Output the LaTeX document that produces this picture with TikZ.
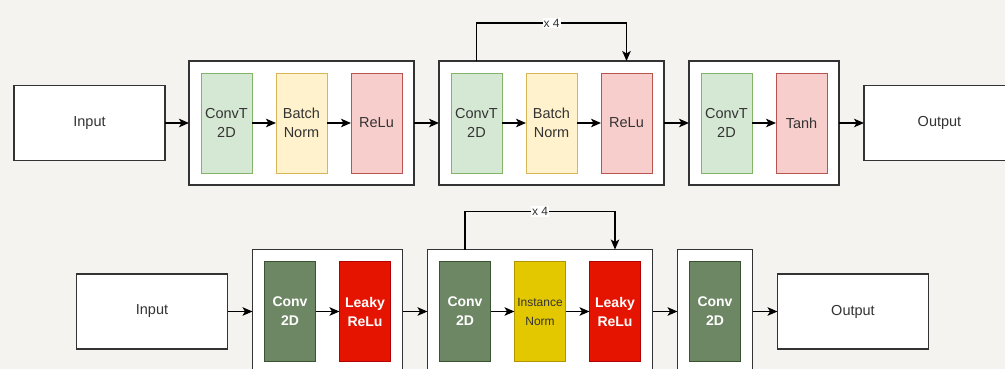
\documentclass[tikz,border=0pt]{standalone}
\usepackage{fontspec}
\setmainfont{Liberation Sans}
\usepackage{xcolor}
\usetikzlibrary{arrows.meta, positioning, fit, backgrounds}

\definecolor{paper}{HTML}{F4F3EF}
\definecolor{txt}{HTML}{333333}
\definecolor{lgreen}{HTML}{D5E8D4}  \definecolor{lgreenln}{HTML}{82B366}
\definecolor{lyellow}{HTML}{FFF2CC} \definecolor{lyellowln}{HTML}{D6B656}
\definecolor{lred}{HTML}{F8CECC}    \definecolor{lredln}{HTML}{B85450}
\definecolor{dgreen}{HTML}{6D8764}  \definecolor{dgreenln}{HTML}{3A5431}
\definecolor{dyellow}{HTML}{E3C800} \definecolor{dyellowln}{HTML}{B09500}
\definecolor{dred}{HTML}{E51400}    \definecolor{dredln}{HTML}{B20000}

\begin{document}
\begin{tikzpicture}[
  x=1pt, y=1pt,
  node distance=24pt,
  every node/.append style={outer sep=0pt},
  iobox/.style={draw=txt, fill=white, line width=1.2pt, minimum width=151pt, minimum height=75pt,
                font=\fontsize{14.5}{18}\selectfont, text=txt},
  layer/.style={draw, line width=0.8pt, minimum width=51pt, minimum height=100pt, inner sep=0pt,
                align=center, font=\fontsize{14.5}{19}\selectfont, text=txt},
  convt/.style={layer, fill=lgreen, draw=lgreenln},
  bnorm/.style={layer, fill=lyellow, draw=lyellowln},
  relu/.style={layer, fill=lred, draw=lredln},
  conv/.style={layer, fill=dgreen, draw=dgreenln, text=white, font=\bfseries\fontsize{14}{19}\selectfont},
  inorm/.style={layer, fill=dyellow, draw=dyellowln, text=txt, font=\fontsize{12}{19}\selectfont},
  lrelu/.style={layer, fill=dred, draw=dredln, text=white, font=\bfseries\fontsize{14}{19}\selectfont},
  block/.style={draw=txt, fill=white, line width=1.4pt, inner sep=12pt},
  arr/.style={-{Stealth[length=10pt, width=8.5pt, inset=2.5pt]}, line width=1.2pt, draw=black},
  repeat/.style={fill=white, inner sep=1pt, text=txt, font=\fontsize{12}{14}\selectfont}
]
\useasboundingbox (0,0) rectangle (1005,-369);

% generator
\node[iobox] (gin) at (89.5,-123) {Input};
\node[convt, right=36pt of gin] (g1c) {ConvT\\2D};
\node[bnorm, right=of g1c] (g1n) {Batch\\Norm};
\node[relu, right=of g1n] (g1r) {ReLu};
\node[convt, right=49pt of g1r] (g2c) {ConvT\\2D};
\node[bnorm, right=of g2c] (g2n) {Batch\\Norm};
\node[relu, right=of g2n] (g2r) {ReLu};
\node[convt, right=49pt of g2r] (g3c) {ConvT\\2D};
\node[relu, right=of g3c] (g3t) {Tanh};
\node[iobox, right=37pt of g3t] (gout) {Output};

% discriminator
\node[iobox] (din) at (152,-311.5) {Input};
\node[conv, right=37pt of din] (d1c) {Conv\\2D};
\node[lrelu, right=of d1c] (d1r) {Leaky\\ReLu};
\node[conv, right=49pt of d1r] (d2c) {Conv\\2D};
\node[inorm, right=of d2c] (d2n) {Instance\\Norm};
\node[lrelu, right=of d2n] (d2r) {Leaky\\ReLu};
\node[conv, right=49pt of d2r] (d3c) {Conv\\2D};
\node[iobox, right=37pt of d3c] (dout) {Output};

\begin{scope}[on background layer]
  \fill[paper] (0,0) rectangle (1005,-369);
  \node[block, fit=(g1c) (g1r)] (gblk1) {};
  \node[block, fit=(g2c) (g2r)] (gblk2) {};
  \node[block, fit=(g3c) (g3t)] (gblk3) {};
  \node[block, fit=(d1c) (d1r)] (dblk1) {};
  \node[block, fit=(d2c) (d2r)] (dblk2) {};
  \node[block, fit=(d3c)] (dblk3) {};
\end{scope}

\draw[arr] (gin) -- (gblk1);
\draw[arr] (g1c) -- (g1n);
\draw[arr] (g1n) -- (g1r);
\draw[arr] (gblk1) -- (gblk2);
\draw[arr] (g2c) -- (g2n);
\draw[arr] (g2n) -- (g2r);
\draw[arr] (gblk2) -- (gblk3);
\draw[arr] (g3c) -- (g3t);
\draw[arr] (gblk3) -- (gout);
\draw[arr] (gblk2.north -| g2c) -- ++(0,38) -| node[pos=0.25, repeat] {x 4} (gblk2.north -| g2r);

\draw[arr] (din) -- (dblk1);
\draw[arr] (d1c) -- (d1r);
\draw[arr] (dblk1) -- (dblk2);
\draw[arr] (d2c) -- (d2n);
\draw[arr] (d2n) -- (d2r);
\draw[arr] (dblk2) -- (dblk3);
\draw[arr] (dblk3) -- (dout);
\draw[arr] (dblk2.north -| d2c) -- ++(0,38) -| node[pos=0.25, repeat] {x 4} (dblk2.north -| d2r);
\end{tikzpicture}
\end{document}
